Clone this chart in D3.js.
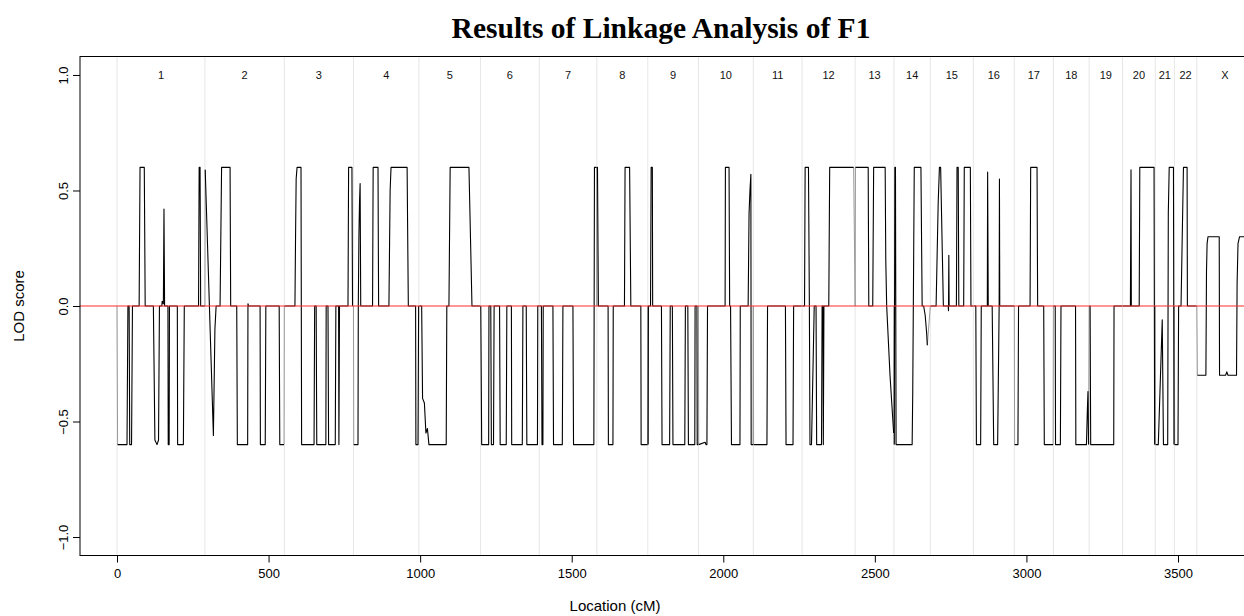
<!DOCTYPE html>
<html>
<head>
<meta charset="utf-8">
<script src="https://cdn.jsdelivr.net/npm/d3@7"></script>
<style>
  html, body { margin: 0; padding: 0; background: #fff; }
  svg { display: block; }
</style>
</head>
<body>
<svg id="chart" width="1244" height="616"></svg>
<script>
// Chromosome boundaries (cM) and names
const chromBounds = [0, 290, 552, 780, 996, 1199, 1393, 1583, 1751, 1918, 2099, 2260,
  2435, 2563, 2683, 2825, 2960, 3089, 3207, 3317, 3425, 3488, 3562, 3748];
const chromNames = ["1","2","3","4","5","6","7","8","9","10","11","12","13","14","15",
  "16","17","18","19","20","21","22","X"];

// LOD score traces per chromosome: [location (cM), LOD]
const chr1 = [[2,-0.6],[33,-0.6],[36,0],[40,0],[42,-0.6],[48,-0.6],[51,0],[73,0],[76,0.6],[90,0.6],[93,0],[120,0],[125,-0.58],[132,-0.6],[137,-0.58],[140,0],[148,0],[149,0.02],[153,0.01],[155,0.42],[157,0],[168,0],[169,-0.6],[172,-0.6],[173,0],[199,0],[200,-0.6],[219,-0.6],[222,0],[269,0],[271,0.6],[274,0.6],[276,0],[289,0]];
const chr2 = [[291,0.59],[318,-0.56],[323,-0.1],[327,0],[340,0],[345,0.6],[373,0.6],[375,0],[395,0],[397,-0.6],[431,-0.6],[432,0.01],[434,0],[472,0],[473,-0.6],[489,-0.6],[491,0],[535,0],[537,-0.6],[551,-0.6]];
const chr3 = [[553,0],[587,0],[589,0.3],[591,0.55],[594,0.6],[607,0.6],[609,-0.6],[650,-0.6],[652,0],[657,0],[659,-0.6],[689,-0.6],[690,0],[696,0],[698,-0.6],[720,-0.6],[722,0],[731,0],[732,-0.6],[734,0],[762,0],[764,0.6],[775,0.6],[777,0]];
const chr4 = [[781,-0.6],[795,-0.6],[796,0],[798,0.3],[800,0.45],[802,0.53],[804,0],[843,0],[845,0.6],[861,0.6],[863,0],[897,0],[901,0.5],[904,0.6],[957,0.6],[961,0],[985,0],[986,-0.6],[993,-0.6],[995,0]];
const chr5 = [[998,0],[1005,0],[1008,-0.4],[1014,-0.42],[1019,-0.55],[1024,-0.53],[1029,-0.6],[1086,-0.6],[1088,0],[1095,0],[1099,0.6],[1161,0.6],[1166,0.3],[1171,0],[1197,0]];
const chr6 = [[1200,0],[1203,-0.6],[1226,-0.6],[1227,0],[1233,0],[1235,-0.6],[1242,-0.6],[1244,0],[1262,0],[1264,-0.6],[1284,-0.6],[1286,0],[1301,0],[1302,-0.6],[1337,-0.6],[1339,0],[1350,0],[1352,-0.6],[1387,-0.6],[1388,0],[1392,0]];
const chr7 = [[1394,0],[1400,0],[1402,-0.6],[1405,-0.6],[1406,0],[1438,0],[1440,-0.6],[1469,-0.6],[1471,0],[1504,0],[1506,-0.6],[1573,-0.6],[1575,0.6],[1582,0.6]];
const chr8 = [[1583,0.6],[1585,0.6],[1588,0],[1620,0],[1621,-0.6],[1636,-0.6],[1637,0],[1674,0],[1676,0.6],[1691,0.6],[1695,0],[1728,0],[1729,-0.6],[1750,-0.6]];
const chr9 = [[1752,-0.6],[1753,0],[1760,0],[1762,0.6],[1766,0.6],[1767,0],[1796,0],[1798,-0.6],[1823,-0.6],[1825,0],[1832,0],[1834,-0.6],[1873,-0.6],[1875,0],[1883,0],[1885,-0.6],[1906,-0.6],[1907,0],[1913,0],[1914,-0.6],[1917,-0.6]];
const chr10 = [[1919,-0.6],[1940,-0.59],[1943,-0.6],[1946,-0.6],[1948,0],[2006,0],[2007,0.6],[2019,0.6],[2021,0],[2024,0],[2027,-0.6],[2055,-0.6],[2056,0],[2082,0],[2085,0.4],[2088,0.5],[2091,0.57],[2092,-0.6],[2098,-0.6]];
const chr11 = [[2100,-0.6],[2144,-0.6],[2146,0],[2205,0],[2207,-0.6],[2230,-0.6],[2232,0],[2258,0]];
const chr12 = [[2262,0],[2268,0],[2270,0.6],[2281,0.6],[2284,0],[2286,-0.6],[2291,-0.6],[2300,0],[2306,0],[2308,-0.6],[2324,-0.6],[2326,0],[2329,0],[2330,-0.6],[2332,0],[2348,0],[2351,0.6],[2430,0.6]];
const chr13 = [[2436,0.6],[2478,0.6],[2480,0],[2493,0],[2496,0.6],[2534,0.6],[2536,0.2],[2539,0],[2550,-0.3],[2562,-0.55]];
const chr14 = [[2564,-0.6],[2566,0.6],[2568,0.6],[2570,-0.6],[2623,-0.6],[2625,-0.37],[2630,0.6],[2652,0.6],[2656,0],[2661,0],[2666,-0.04],[2671,-0.12],[2673,-0.17]];
const chr15 = [[2685,0],[2702,0],[2709,0.45],[2713,0.6],[2717,0.6],[2726,0],[2742,0],[2743,-0.02],[2744,0.22],[2745,0],[2769,0],[2771,0.6],[2775,0.6],[2777,0],[2793,0],[2795,0.6],[2815,0.6],[2817,0],[2823,0]];
const chr16 = [[2827,0],[2833,0],[2835,-0.6],[2849,-0.6],[2851,0],[2871,0],[2872,0.58],[2874,0],[2887,0],[2892,-0.6],[2905,-0.6],[2910,0],[2911,0.55],[2912,0],[2959,0]];
const chr17 = [[2961,-0.6],[2972,-0.6],[2974,0],[3012,0],[3014,0.6],[3035,0.6],[3037,0],[3057,0],[3059,-0.6],[3088,-0.6]];
const chr18 = [[3090,0],[3095,0],[3096,-0.6],[3112,-0.6],[3114,0],[3162,0],[3163,-0.6],[3198,-0.6],[3201,-0.45],[3203,-0.37],[3205,-0.6]];
const chr19 = [[3208,0],[3210,0],[3212,-0.6],[3288,-0.6],[3289,0],[3315,0]];
const chr20 = [[3318,0],[3343,0],[3345,0.59],[3346,0],[3372,0],[3374,0.6],[3421,0.6],[3423,-0.6]];
const chr21 = [[3426,-0.6],[3435,-0.6],[3448,-0.06],[3452,-0.6],[3466,-0.6],[3468,0.4],[3471,0.6],[3485,0.6],[3487,-0.6]];
const chr22 = [[3489,-0.6],[3500,-0.6],[3502,0],[3510,0],[3518,0.6],[3530,0.6],[3531,0],[3560,0]];
const chrX = [[3564,-0.3],[3592,-0.3],[3594,0.15],[3596,0.27],[3599,0.3],[3636,0.3],[3637,-0.3],[3657,-0.3],[3661,-0.285],[3665,-0.3],[3693,-0.3],[3695,0.1],[3698,0.27],[3703,0.3],[3740,0.3]];

const traces = [chr1, chr2, chr3, chr4, chr5, chr6, chr7, chr8, chr9, chr10, chr11, chr12,
  chr13, chr14, chr15, chr16, chr17, chr18, chr19, chr20, chr21, chr22, chrX];

const xTicks = [0, 500, 1000, 1500, 2000, 2500, 3000, 3500];
const yTicks = [-1.0, -0.5, 0.0, 0.5, 1.0];
const yLimits = [-1.08, 1.08];

const chartTitle = "Results of Linkage Analysis of F1";
const xTitle = "Location (cM)";
const yTitle = "LOD score";

// Layout
const plot = { left: 80, top: 56.5, bottom: 555.5, right: 1262 };

const svg = d3.select("#chart");
const x = d3.scaleLinear().domain([0, 3500]).range([117, 1178]);
const y = d3.scaleLinear().domain(yLimits).range([plot.bottom, plot.top]);

svg.append("defs").append("clipPath").attr("id", "plotclip")
  .append("rect")
  .attr("x", plot.left).attr("y", plot.top)
  .attr("width", plot.right - plot.left).attr("height", plot.bottom - plot.top);

const g = svg.append("g").attr("clip-path", "url(#plotclip)");

// Chromosome boundary guides
g.selectAll("line.bound")
  .data(chromBounds.slice(0, -1))
  .join("line")
  .attr("class", "bound")
  .attr("x1", d => x(d)).attr("x2", d => x(d))
  .attr("y1", plot.top).attr("y2", plot.bottom)
  .attr("stroke", "#e6e6e6").attr("stroke-width", 1);

// Chromosome labels
g.selectAll("text.chr")
  .data(chromNames)
  .join("text")
  .attr("class", "chr")
  .attr("x", (d, i) => x((chromBounds[i] + chromBounds[i + 1]) / 2))
  .attr("y", y(1.0))
  .attr("dy", "0.35em")
  .attr("text-anchor", "middle")
  .attr("font-family", "Liberation Sans, Arial, sans-serif")
  .attr("font-size", 11)
  .attr("fill", "#111")
  .text(d => d);

const line = d3.line().x(d => x(d[0])).y(d => y(d[1]));

// Links between neighbouring chromosomes, through zero at each boundary
const links = [];
links.push([[chromBounds[0], 0], traces[0][0]]);
for (let i = 0; i < traces.length - 1; i++) {
  const a = traces[i][traces[i].length - 1];
  const b = traces[i + 1][0];
  links.push([a, [chromBounds[i + 1], 0], b]);
}
g.selectAll("path.link")
  .data(links)
  .join("path")
  .attr("class", "link")
  .attr("d", line)
  .attr("fill", "none")
  .attr("stroke", "#9a9a9a")
  .attr("stroke-width", 1);

// LOD traces
g.selectAll("path.trace")
  .data(traces)
  .join("path")
  .attr("class", "trace")
  .attr("d", line)
  .attr("fill", "none")
  .attr("stroke", "#000")
  .attr("stroke-width", 1.1)
  .attr("stroke-linejoin", "round");

// Zero reference line
g.append("line")
  .attr("x1", plot.left).attr("x2", plot.right)
  .attr("y1", y(0)).attr("y2", y(0))
  .attr("stroke", "#ff2a2a").attr("stroke-width", 1.2);

// Plot frame
svg.append("rect")
  .attr("x", plot.left).attr("y", plot.top)
  .attr("width", plot.right - plot.left).attr("height", plot.bottom - plot.top)
  .attr("fill", "none").attr("stroke", "#000").attr("stroke-width", 1);

// X axis
const xAxis = svg.append("g")
  .attr("transform", `translate(0,${plot.bottom})`)
  .call(d3.axisBottom(x).tickValues(xTicks).tickSize(7).tickPadding(6).tickFormat(d3.format("d")));
xAxis.select(".domain").remove();
xAxis.selectAll("text")
  .attr("font-family", "Liberation Sans, Arial, sans-serif")
  .attr("font-size", 13).attr("fill", "#000");
xAxis.selectAll("line").attr("stroke", "#000");

// Y axis (labels parallel to the axis)
const yAxis = svg.append("g")
  .attr("transform", `translate(${plot.left},0)`)
  .call(d3.axisLeft(y).tickValues(yTicks).tickSize(7).tickFormat(d3.format(".1f")));
yAxis.select(".domain").remove();
yAxis.selectAll("line").attr("stroke", "#000");
yAxis.selectAll("text")
  .attr("x", null).attr("dy", null)
  .attr("font-family", "Liberation Sans, Arial, sans-serif")
  .attr("font-size", 13).attr("fill", "#000")
  .attr("text-anchor", "middle")
  .attr("transform", "translate(-12,0) rotate(-90)");

// Titles
svg.append("text")
  .attr("x", 661).attr("y", 38)
  .attr("text-anchor", "middle")
  .attr("font-family", "Liberation Serif, Times New Roman, serif")
  .attr("font-weight", "bold")
  .attr("font-size", 29.5)
  .text(chartTitle);

svg.append("text")
  .attr("x", 615).attr("y", 611)
  .attr("text-anchor", "middle")
  .attr("font-family", "Liberation Sans, Arial, sans-serif")
  .attr("font-size", 15)
  .text(xTitle);

svg.append("text")
  .attr("transform", "translate(24,306) rotate(-90)")
  .attr("text-anchor", "middle")
  .attr("font-family", "Liberation Sans, Arial, sans-serif")
  .attr("font-size", 15)
  .text(yTitle);
</script>
</body>
</html>
